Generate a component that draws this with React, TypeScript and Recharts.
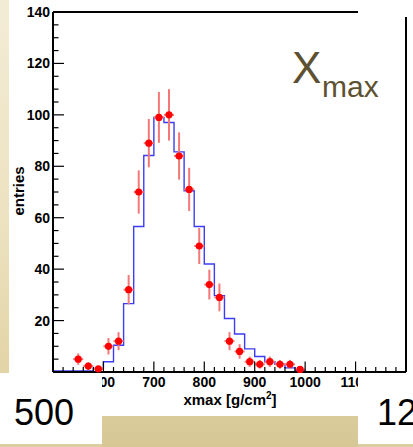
import { ComposedChart, Line, Scatter, ErrorBar, XAxis, YAxis, ReferenceLine } from "recharts";

// simulated histogram (blue step line): lower bin edges + counts, last entry closes the step
const BIN_EDGES = [
  500, 520, 540, 560, 580, 600, 620, 640, 660, 680, 700, 720, 740, 760, 780, 800, 820, 840,
  860, 880, 900, 920, 940, 960, 980, 1000, 1020, 1040, 1060, 1080, 1100, 1120, 1140, 1160, 1180, 1200,
];
const MC_COUNTS = [
  0.4, 0.4, 0.4, 0.4, 1.4, 4, 10.4, 26.6, 56.6, 84.2, 99, 97, 85.6, 70.5, 56.6, 42, 29.7, 20.8,
  14.8, 9, 6, 4, 3, 1.6, 0.6, 0, 0, 0, 0, 0, 0, 0, 0, 0, 0, 0,
];

// measured points (red)
const DATA_X = [550, 570, 590, 610, 630, 650, 670, 690, 710, 730, 750, 770, 790, 810, 830, 850, 870, 890, 910, 930, 950, 970, 990];
const DATA_Y = [5, 2.3, 1.2, 10, 12, 32, 70, 89, 99, 100, 84, 71, 49, 34, 29, 12, 8, 4, 3, 4, 3, 3, 1];
const DATA_ERR = [2.2, 1.5, 1.1, 3.2, 3.5, 5.7, 8.4, 9.4, 9.9, 10, 9.2, 8.4, 7, 5.8, 5.4, 3.5, 2.8, 2, 1.7, 2, 1.7, 1.7, 1];
const BIN_HALF = 10;

const X_TICKS = [
  500, 520, 540, 560, 580, 600, 620, 640, 660, 680, 700, 720, 740, 760, 780, 800, 820, 840,
  860, 880, 900, 920, 940, 960, 980, 1000, 1020, 1040, 1060, 1080, 1100, 1120, 1140, 1160, 1180, 1200,
];
// labels that the slide boxes leave uncovered
const X_LABELS = [600, 700, 800, 900, 1000, 1100];
const Y_TICKS = [
  0, 5, 10, 15, 20, 25, 30, 35, 40, 45, 50, 55, 60, 65, 70, 75, 80, 85, 90, 95, 100, 105, 110,
  115, 120, 125, 130, 135, 140,
];

const histData = BIN_EDGES.map((x, i) => ({ x, v: MC_COUNTS[i] }));
const pointData = DATA_X.map((x, i) => ({ x, y: DATA_Y[i], ey: DATA_ERR[i], ex: BIN_HALF }));

const FONT = "'Liberation Sans', Arial, sans-serif";

const XTick = (props: any) => {
  const { x, y, payload } = props;
  const major = payload.value % 100 === 0;
  return (
    <g>
      <line x1={x} x2={x} y1={y} y2={y - (major ? 10.5 : 5)} stroke="#000" strokeWidth={1.2} />
      {X_LABELS.includes(payload.value) && (
        <text x={x} y={y + 15} textAnchor="middle" fontFamily={FONT} fontWeight="bold" fontSize={14} fill="#000">
          {payload.value}
        </text>
      )}
    </g>
  );
};

const YTick = (props: any) => {
  const { x, y, payload } = props;
  const major = payload.value % 20 === 0;
  return (
    <g>
      <line x1={x} x2={x + (major ? 11 : 5.5)} y1={y} y2={y} stroke="#000" strokeWidth={1.2} />
      {major && payload.value !== 0 && (
        <text x={x - 3} y={y} dy="0.36em" textAnchor="end" fontFamily={FONT} fontWeight="bold" fontSize={14} fill="#000">
          {payload.value}
        </text>
      )}
    </g>
  );
};

const Dot = (props: any) => <circle cx={props.cx} cy={props.cy} r={3.6} fill="#ff0000" />;

export default function App() {
  return (
    <div style={{ position: "absolute", left: 0, top: 0, width: 413, height: 447, overflow: "hidden", background: "#dccf9f" }}>
      <div style={{ position: "absolute", left: 0, top: 0, width: 9, height: 374, background: "linear-gradient(#f3ecd5, #ece2c0 60%, #e2d4a6)" }} />
      <div style={{ position: "absolute", left: 102, top: 416, width: 256, height: 31, background: "linear-gradient(#dacb9b, #d6c795)" }} />
      <div style={{ position: "absolute", left: 9, top: 0, width: 404, height: 416, background: "#fff" }} />
      <div style={{ position: "absolute", left: 0, top: 0 }}>
        <ComposedChart width={413} height={447} margin={{ top: 12, right: 7, bottom: 45, left: 0 }}>
          <XAxis
            dataKey="x"
            type="number"
            domain={[500, 1200]}
            ticks={X_TICKS}
            interval={0}
            tickSize={0}
            tickMargin={0}
            tickLine={false}
            tick={<XTick />}
            height={30}
            axisLine={{ stroke: "#000", strokeWidth: 2 }}
          />
          <YAxis
            dataKey="y"
            type="number"
            domain={[0, 140]}
            ticks={Y_TICKS}
            interval={0}
            tickSize={0}
            tickMargin={0}
            tickLine={false}
            tick={<YTick />}
            width={53}
            axisLine={{ stroke: "#000", strokeWidth: 2 }}
          />
          <ReferenceLine y={140} stroke="#000" strokeWidth={2} />
          <ReferenceLine x={1200} stroke="#000" strokeWidth={2} />
          <Line
            data={histData}
            dataKey="v"
            type="stepAfter"
            stroke="#3c3cf8"
            strokeWidth={1.4}
            dot={false}
            isAnimationActive={false}
          />
          <Scatter data={pointData} dataKey="y" shape={<Dot />} isAnimationActive={false}>
            <ErrorBar dataKey="ey" direction="y" width={0} stroke="#f47878" strokeWidth={2} />
            <ErrorBar dataKey="ex" direction="x" width={0} stroke="#f47878" strokeWidth={2} />
          </Scatter>
        </ComposedChart>
      </div>
      <svg width={413} height={447} style={{ position: "absolute", left: 0, top: 0 }}>
        <rect x={358} y={0} width={55} height={17} fill="#fff" />
        <text x={292} y={83} fontFamily={FONT} fontSize={44} fill="#5e5131">X</text>
        <text x={322} y={97} fontFamily={FONT} fontSize={30} fill="#5e5131">max</text>
        <text transform="translate(23.5,191) rotate(-90)" textAnchor="middle" fontFamily={FONT} fontWeight="bold" fontSize={15} fill="#000">
          entries
        </text>
        <text x={230} y={405} textAnchor="middle" fontFamily={FONT} fontWeight="bold" fontSize={15} fill="#000">
          xmax [g/cm<tspan dy={-6} fontSize={10}>2</tspan><tspan dy={6}>]</tspan>
        </text>
        <rect x={0} y={373} width={102} height={71} fill="#fff" />
        <text x={14} y={425} fontFamily={FONT} fontSize={36} fill="#000">500</text>
        <rect x={358} y={374} width={55} height={70} fill="#fff" />
        <text x={377} y={425} fontFamily={FONT} fontSize={36} fill="#000">12</text>
      </svg>
    </div>
  );
}
